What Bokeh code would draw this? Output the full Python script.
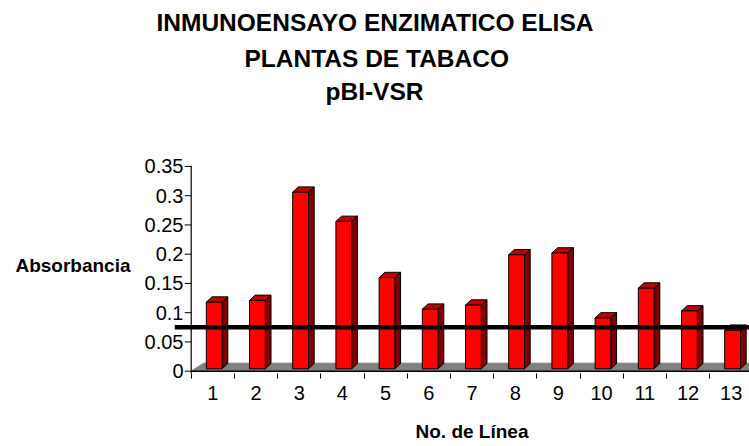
from bokeh.plotting import figure
from bokeh.models import Range1d, FixedTicker, Span, Title, LinearAxis
from bokeh.embed import file_html
from bokeh.resources import INLINE

# ---------------- data ----------------
categories = list(range(1, 14))
category_labels = [str(c) for c in categories]
absorbance = [0.118, 0.121, 0.306, 0.256, 0.160, 0.106, 0.113,
              0.199, 0.202, 0.091, 0.142, 0.103, 0.070]
threshold = 0.075
y_ticks = [0, 0.05, 0.1, 0.15, 0.2, 0.25, 0.3, 0.35]
y_tick_labels = ["0", "0.05", "0.1", "0.15", "0.2", "0.25", "0.3", "0.35"]
title_lines = ["INMUNOENSAYO ENZIMATICO ELISA", "PLANTAS DE TABACO", "pBI-VSR"]
y_title = "Absorbancia"
x_title = "No. de Línea"

# ---------------- geometry (styling) ----------------
PX_X = 43.2      # px per category
PX_Y = 585.0     # px per absorbance unit
W, H = 749, 446
LEFT, TOP, BOTTOM = 174, 108, 73
frame_w = W - LEFT
frame_h = H - TOP - BOTTOM
x0 = 0.5 - 16.7 / PX_X
y0 = -2.3 / PX_Y

FONT = "Liberation Sans"

p = figure(width=W, height=H, output_backend="svg", toolbar_location=None,
           title=None,
           x_range=Range1d(x0, x0 + frame_w / PX_X),
           y_range=Range1d(y0, y0 + frame_h / PX_Y),
           min_border_left=LEFT, min_border_right=0,
           min_border_top=TOP, min_border_bottom=BOTTOM)
p.outline_line_color = None
p.xgrid.visible = False
p.ygrid.visible = False
p.background_fill_color = "white"
p.border_fill_color = "white"

# floor
fd_x, fd_y = 12.3 / PX_X, 8.0 / PX_Y
x_far = x0 + frame_w / PX_X + 1
p.patch([0.5, x_far, x_far, 0.5 + fd_x], [0, 0, fd_y, fd_y],
        fill_color="#808080", line_color="#808080", line_width=1)

# axis lines and y ticks drawn inside plot area
p.segment(x0=[0.5], y0=[y0 - 0.01], x1=[0.5], y1=[y_ticks[-1] + 0.001],
          line_color="black", line_width=1.2)
p.segment(x0=[0.5], y0=[0], x1=[x_far], y1=[0], line_color="black", line_width=1.5)
tick_len = 6.5 / PX_X
p.segment(x0=[0.5 - tick_len] * len(y_ticks), y0=y_ticks,
          x1=[0.5] * len(y_ticks), y1=y_ticks, line_color="black", line_width=1)

# 3D bars
fl, fr = -6.5 / PX_X, 9.3 / PX_X
dx, dy = 5.7 / PX_X, 5.3 / PX_Y
base = 2.4 / PX_Y
front_xs, front_ys, side_xs, side_ys, top_xs, top_ys = [], [], [], [], [], []
for c, v in zip(categories, absorbance):
    front_xs.append([c + fl, c + fr, c + fr, c + fl])
    front_ys.append([base, base, v, v])
    side_xs.append([c + fr, c + fr + dx, c + fr + dx, c + fr])
    side_ys.append([base, base + dy, v + dy, v])
    top_xs.append([c + fl, c + fr, c + fr + dx, c + fl + dx])
    top_ys.append([v, v, v + dy, v + dy])
p.patches(side_xs, side_ys, fill_color="#800000", line_color="black", line_width=1)
p.patches(top_xs, top_ys, fill_color="#C00000", line_color="black", line_width=1)
p.patches(front_xs, front_ys, fill_color="#FF0000", line_color="black", line_width=1)

# threshold line
p.add_layout(Span(location=threshold, dimension="width", line_color="black", line_width=4.5))

# x axis (category numbers)
xa = p.xaxis[0]
xa.ticker = FixedTicker(ticks=categories,
                        minor_ticks=[c - 0.5 for c in categories] + [categories[-1] + 0.5])
xa.major_label_overrides = {c: l for c, l in zip(categories, category_labels)}
xa.axis_line_color = None
xa.major_tick_out = 0
xa.major_tick_in = 0
xa.minor_tick_out = 5
xa.minor_tick_in = 0
xa.minor_tick_line_color = "black"
xa.major_label_standoff = 7
xa.major_label_text_font = FONT
xa.major_label_text_font_size = "20px"
xa.major_label_text_color = "black"

# x-axis title, centred on the middle category
x_mid = (categories[0] + categories[-1]) / 2
xt = LinearAxis(ticker=FixedTicker(ticks=[x_mid], minor_ticks=[]),
                major_label_overrides={x_mid: x_title},
                axis_line_color=None, major_tick_line_color=None,
                minor_tick_line_color=None, major_tick_out=0, major_tick_in=0,
                major_label_standoff=18,
                major_label_text_font=FONT, major_label_text_font_size="19px",
                major_label_text_font_style="bold", major_label_text_color="black")
p.add_layout(xt, "below")

# y axis
ya = p.yaxis[0]
ya.ticker = FixedTicker(ticks=y_ticks, minor_ticks=[])
ya.major_label_overrides = {t: l for t, l in zip(y_ticks, y_tick_labels)}
ya.axis_line_color = None
ya.major_tick_out = 0
ya.major_tick_in = 0
ya.minor_tick_out = 0
ya.minor_tick_in = 0
ya.major_label_standoff = -9
ya.major_label_text_font = FONT
ya.major_label_text_font_size = "20px"
ya.major_label_text_color = "black"

# y-axis title, horizontal, beside the middle of the value scale
y_mid = 0.18
yt = LinearAxis(ticker=FixedTicker(ticks=[y_mid], minor_ticks=[]),
                major_label_overrides={y_mid: y_title},
                axis_line_color=None, major_tick_line_color=None,
                minor_tick_line_color=None, major_tick_out=0, major_tick_in=0,
                major_label_standoff=11,
                major_label_text_font=FONT, major_label_text_font_size="19px",
                major_label_text_font_style="bold", major_label_text_color="black")
p.add_layout(yt, "left")

# titles (added innermost first)
title_offsets = [-18, 70, 151]
title_standoffs = [11, 2, 7]
for line, off, so in reversed(list(zip(title_lines, title_offsets, title_standoffs))):
    p.add_layout(Title(text=line, align="left", offset=off,
                       text_font=FONT, text_font_size="24.5px",
                       text_font_style="bold", text_color="black",
                       standoff=so), "above")

open("out.html", "w").write(file_html(p, INLINE))
